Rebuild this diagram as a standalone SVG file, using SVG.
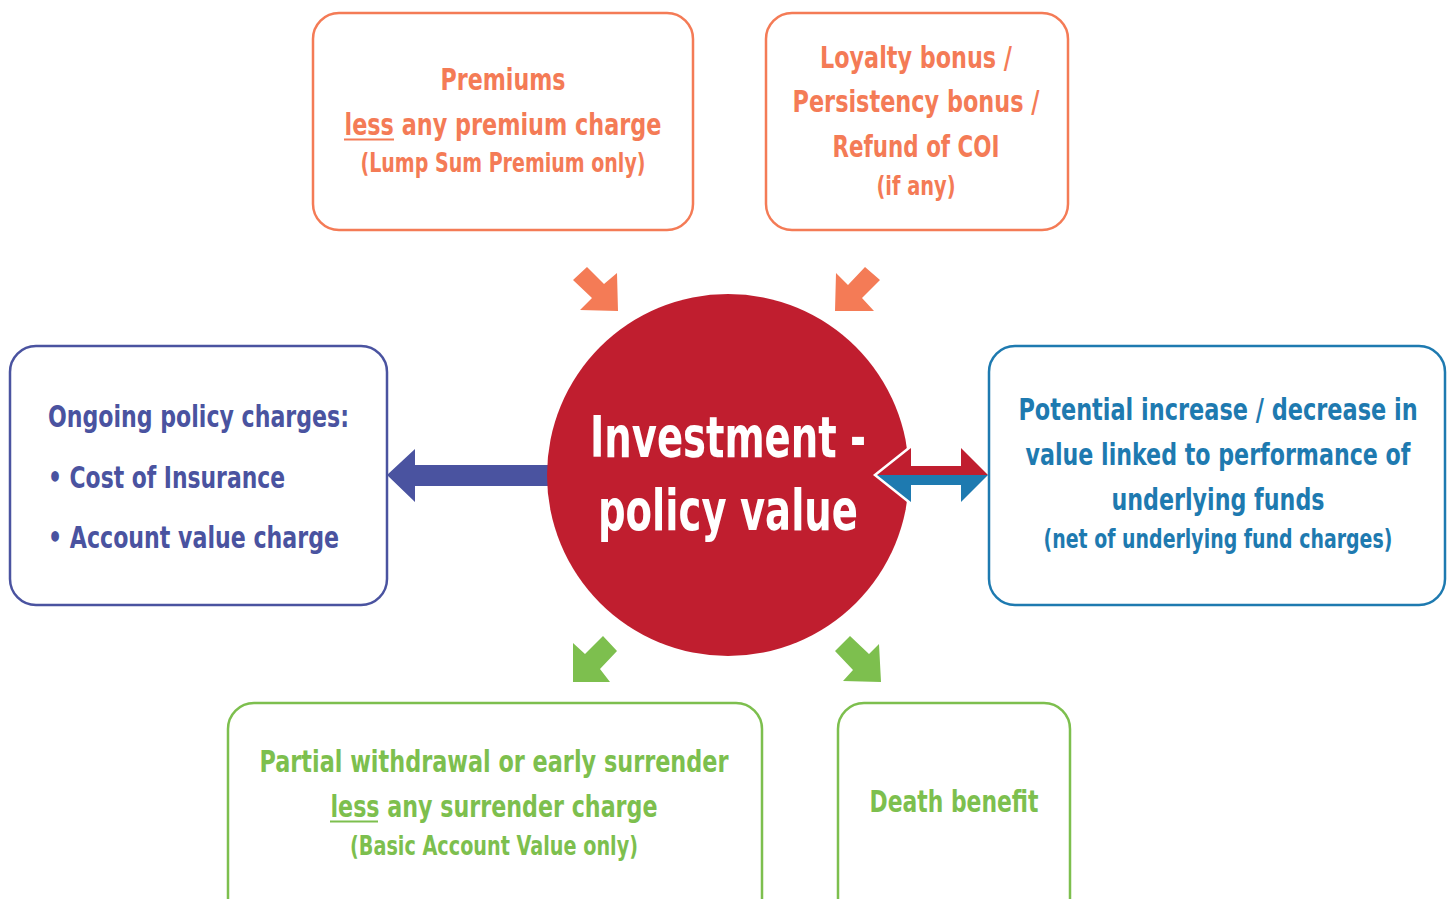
<svg xmlns="http://www.w3.org/2000/svg" width="1452" height="899" viewBox="0 0 1452 899">
<style>
.box{fill:#fff;stroke-width:2.5}
.t{font-family:"Liberation Sans Narrow","DejaVu Sans Condensed","Liberation Sans",sans-serif;font-weight:bold;text-anchor:middle}
.or{fill:#F47B56}.orS{stroke:#F47B56}
.pu{fill:#4A53A0}.puS{stroke:#4A53A0}
.bl{fill:#1E7AB0}.blS{stroke:#1E7AB0}
.gr{fill:#7DBF4E}.grS{stroke:#7DBF4E}
</style>
<rect width="1452" height="899" fill="#fff"/>
<g id="connectors">
<polygon class="or" points="587,267 604,284 617,273 618,311 580,310 592,298 573,280"/>
<polygon class="or" points="865,267 880,280 862,298 874,311 835,311 836,273 848,285"/>
<polygon class="gr" points="603,636 617,651 600,669 610,682 573,682 573,643 585,654"/>
<polygon class="gr" points="850,636 869,654 879,644 881,682 843,681 853,670 835,651"/>
<polygon class="pu" points="560,465 415,465 415,449 387,475 415,502 415,486 560,486"/>
</g>
<g id="center">
<circle cx="728" cy="475" r="181" fill="#C01E2F"/>
<text class="t" x="728" y="457" font-size="57" fill="#fff" textLength="276" lengthAdjust="spacingAndGlyphs">Investment -</text>
<text class="t" x="728" y="530" font-size="57" fill="#fff" textLength="260" lengthAdjust="spacingAndGlyphs">policy value</text>
</g>
<g id="double-arrow">
<polygon points="877,475 911,448 911,466 961,466 961,448 988,475 961,502 961,485 911,485 911,502" fill="none" stroke="#fff" stroke-width="5" stroke-linejoin="miter"/>
<polygon points="877,475 911,448 911,466 961,466 961,448 988,475" fill="#C01E2F"/>
<polygon points="877,475 988,475 961,502 961,485 911,485 911,502" fill="#1E7AB0"/>
</g>
<g id="premiums">
<rect class="box orS" x="313" y="13" width="380" height="217" rx="26"/>
<text class="t or" x="503" y="90" font-size="31" textLength="125" lengthAdjust="spacingAndGlyphs">Premiums</text>
<text class="t or" x="503" y="135" font-size="31" textLength="317" lengthAdjust="spacingAndGlyphs">less any premium charge</text>
<line class="orS" x1="344" y1="139.5" x2="394" y2="139.5" stroke-width="2"/>
<text class="t or" x="503" y="172" font-size="26" textLength="285" lengthAdjust="spacingAndGlyphs">(Lump Sum Premium only)</text>
</g>
<g id="loyalty">
<rect class="box orS" x="766" y="13" width="302" height="217" rx="26"/>
<text class="t or" x="916" y="68" font-size="31" textLength="192" lengthAdjust="spacingAndGlyphs">Loyalty bonus /</text>
<text class="t or" x="916" y="112" font-size="31" textLength="247" lengthAdjust="spacingAndGlyphs">Persistency bonus /</text>
<text class="t or" x="916" y="157" font-size="31" textLength="167" lengthAdjust="spacingAndGlyphs">Refund of COI</text>
<text class="t or" x="916" y="195" font-size="26" textLength="79" lengthAdjust="spacingAndGlyphs">(if any)</text>
</g>
<g id="ongoing">
<rect class="box puS" x="10" y="346" width="377" height="259" rx="26"/>
<text class="t pu" x="48" y="427" font-size="31" style="text-anchor:start" textLength="301" lengthAdjust="spacingAndGlyphs">Ongoing policy charges:</text>
<text class="t pu" x="48" y="488" font-size="31" style="text-anchor:start" textLength="237" lengthAdjust="spacingAndGlyphs">• Cost of Insurance</text>
<text class="t pu" x="48" y="548" font-size="31" style="text-anchor:start" textLength="291" lengthAdjust="spacingAndGlyphs">• Account value charge</text>
</g>
<g id="potential">
<rect class="box blS" x="989" y="346" width="456" height="259" rx="26"/>
<text class="t bl" transform="translate(1218,420) scale(0.8,1)" x="0" y="0" font-size="31" textLength="499" lengthAdjust="spacingAndGlyphs">Potential increase / decrease in</text>
<text class="t bl" transform="translate(1218,465) scale(0.8,1)" x="0" y="0" font-size="31" textLength="481" lengthAdjust="spacingAndGlyphs">value linked to performance of</text>
<text class="t bl" x="1218" y="510" font-size="31" textLength="213" lengthAdjust="spacingAndGlyphs">underlying funds</text>
<text class="t bl" transform="translate(1218,548) scale(0.8,1)" x="0" y="0" font-size="26" textLength="436" lengthAdjust="spacingAndGlyphs">(net of underlying fund charges)</text>
</g>
<g id="partial">
<rect class="box grS" x="228" y="703" width="534" height="230" rx="26"/>
<text class="t gr" x="494" y="772" font-size="31" textLength="469" lengthAdjust="spacingAndGlyphs">Partial withdrawal or early surrender</text>
<text class="t gr" x="494" y="817" font-size="31" textLength="327" lengthAdjust="spacingAndGlyphs">less any surrender charge</text>
<line class="grS" x1="330" y1="821.5" x2="378" y2="821.5" stroke-width="2"/>
<text class="t gr" x="494" y="855" font-size="26" textLength="288" lengthAdjust="spacingAndGlyphs">(Basic Account Value only)</text>
</g>
<g id="death">
<rect class="box grS" x="838" y="703" width="232" height="230" rx="26"/>
<text class="t gr" x="954" y="812" font-size="31" textLength="169" lengthAdjust="spacingAndGlyphs">Death benefit</text>
</g>
</svg>
